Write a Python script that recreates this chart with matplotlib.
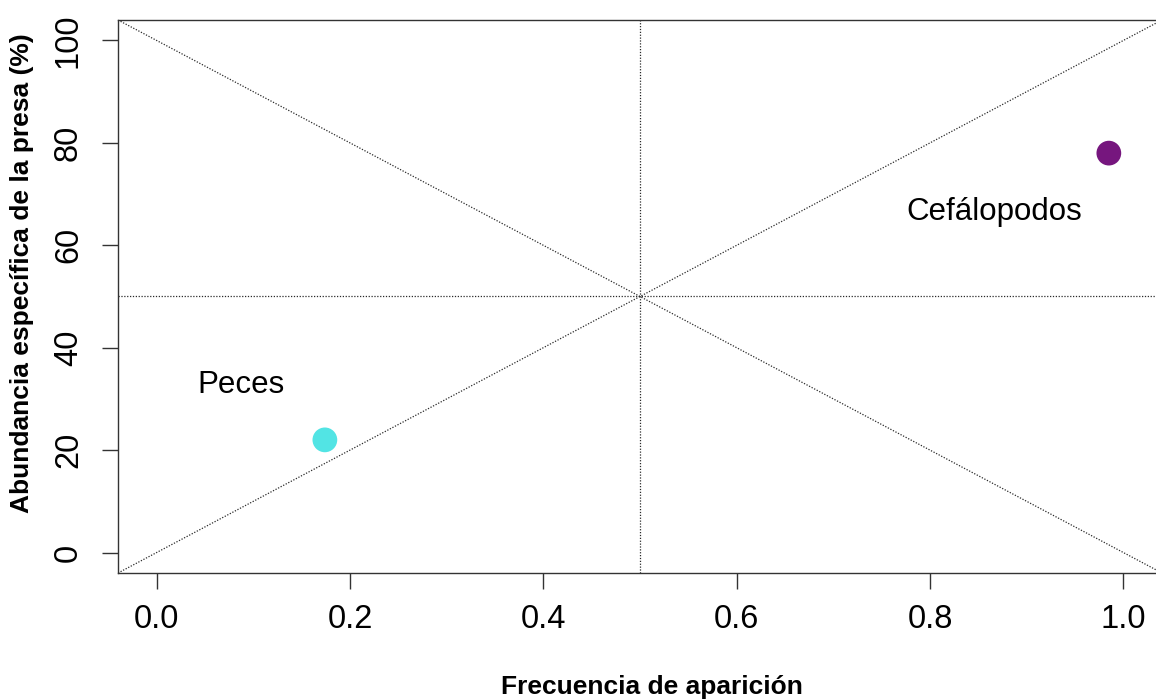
import matplotlib
matplotlib.use("Agg")
import matplotlib.pyplot as plt

# Data
categories = ["Peces", "Cefálopodos"]
freq = [0.174, 0.985]
abund = [22.0, 78.0]
colors = ["#52E4E4", "#76167E"]
label_x = [0.087, 0.866]
label_y = [32.7, 66.5]

x_ticks = [0.0, 0.2, 0.4, 0.6, 0.8, 1.0]
x_ticklabels = ["0.0", "0.2", "0.4", "0.6", "0.8", "1.0"]
y_ticks = [0, 20, 40, 60, 80, 100]
y_ticklabels = ["0", "20", "40", "60", "80", "100"]

# reference lines (intercept, slope) and cross lines
ablines = [(0, 100), (100, -100)]
hline_y = 50
vline_x = 0.5

plt.rcParams['font.family'] = ['Liberation Sans', 'DejaVu Sans']

W, H = 1156, 700
fig = plt.figure(figsize=(W / 100, H / 100), dpi=100)
left, right, top, bottom = 118, 1162, 20, 573
ax = fig.add_axes([left / W, (H - bottom) / H, (right - left) / W, (bottom - top) / H])
ax.set_xlim(-0.04, 1.04)
ax.set_ylim(-4, 104)

line_kw = dict(color="#2a2a2a", linewidth=0.9, linestyle=(0, (1, 1.3)), zorder=1)
for b, m in ablines:
    ax.axline((0, b), slope=m, **line_kw)
ax.axhline(hline_y, **line_kw)
ax.axvline(vline_x, **line_kw)

ax.scatter(freq, abund, s=23 ** 2 * 0.6, c=colors, edgecolors="none", zorder=3)
for lx, ly, t in zip(label_x, label_y, categories):
    ax.text(lx, ly, t, fontsize=22.5, ha="center", va="center", color="black")

ax.set_xticks(x_ticks)
ax.set_xticklabels(x_ticklabels)
ax.set_yticks(y_ticks)
ax.set_yticklabels(y_ticklabels, rotation=90, va="center")
ax.tick_params(axis="both", direction="out", length=11.5, width=1, color="#333333",
               labelsize=23.5)
ax.tick_params(axis="x", pad=11)
ax.tick_params(axis="y", pad=13)
for s in ax.spines.values():
    s.set_color("#333333")
    s.set_linewidth(1)

ax.set_xlabel("Frecuencia de aparición", fontsize=19, fontweight="bold")
ax.set_ylabel("Abundancia específica de la presa (%)", fontsize=19, fontweight="bold")
ax.xaxis.set_label_coords((652 - left) / (right - left), (bottom - 687) / (bottom - top))
ax.yaxis.set_label_coords((22 - left) / (right - left), (bottom - 273) / (bottom - top))
ax.xaxis.label.set_va("center")
ax.yaxis.label.set_va("center")

fig.savefig("out.png", dpi=100)
